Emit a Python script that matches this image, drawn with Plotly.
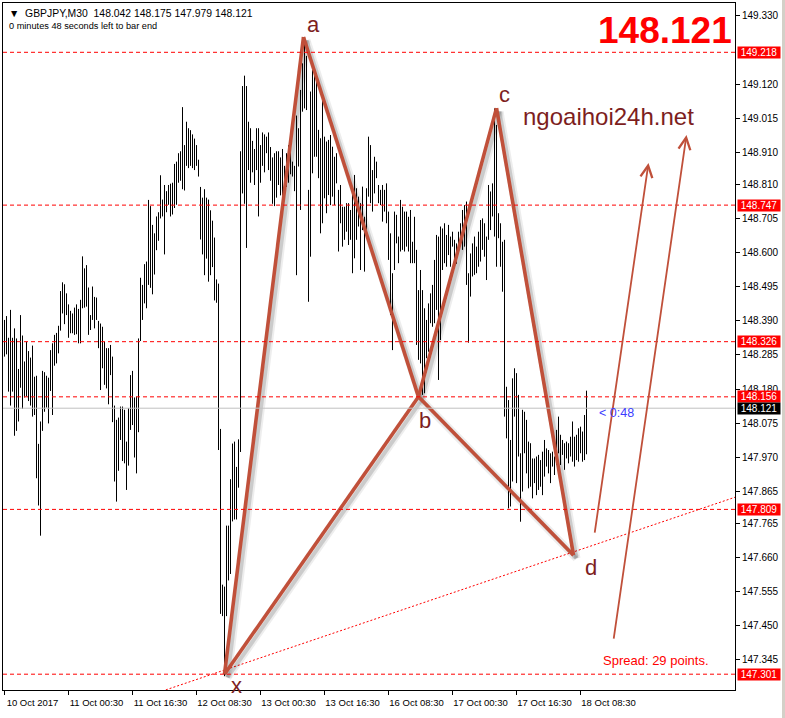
import plotly.graph_objects as go

# bar data (high / low of each bar, oldest first)
highs = [
    148.393, 148.405, 148.338, 148.424, 148.338, 148.367, 148.336, 148.242, 148.408, 148.345,
    148.265, 148.326, 148.297, 148.277, 148.314, 148.218, 148.221, 148.011, 148.080, 148.236,
    148.232, 148.221, 148.215, 148.300, 148.321, 148.347, 148.353, 148.375, 148.482, 148.509,
    148.503, 148.475, 148.441, 148.421, 148.413, 148.431, 148.441, 148.427, 148.455, 148.589,
    148.552, 148.562, 148.493, 148.408, 148.496, 148.464, 148.462, 148.390, 148.382, 148.372,
    148.326, 148.306, 148.306, 148.316, 148.280, 148.129, 148.085, 148.092, 148.126, 148.126,
    148.116, 148.018, 148.121, 148.223, 148.236, 148.154, 148.157, 148.336, 148.523, 148.501,
    148.565, 148.573, 148.763,
    148.744, 148.686, 148.660, 148.712, 148.725, 148.839, 148.764, 148.809, 148.790, 148.809,
    148.813, 148.816, 148.874, 148.881, 148.907, 148.913, 149.049, 148.932, 149.004, 148.984,
    148.978, 148.965, 148.952, 148.932, 148.887, 148.803, 148.770, 148.796, 148.770, 148.764,
    148.731, 148.699, 148.647, 148.518, 148.505, 148.057, 147.577, 147.571, 147.759, 147.759,
    147.902, 148.012, 148.018, 147.940, 148.025, 148.913, 149.114, 149.146, 149.114, 149.004,
    148.984, 148.945, 148.920, 148.984, 148.984, 148.932, 148.971, 148.965, 148.958, 148.971,
    148.926, 148.894, 148.907, 148.913, 148.913, 148.894, 148.920, 148.868, 148.907, 148.932,
    148.971, 148.881, 148.868, 149.023,
    148.984, 149.102, 149.184, 149.245, 149.207, 148.794, 149.097, 149.163, 149.158, 149.153,
    148.979, 148.953, 149.086, 148.958, 148.943, 148.948, 148.963, 148.927, 148.896, 148.907,
    148.794, 148.809, 148.742, 148.742, 148.753, 148.753, 148.732, 148.804, 148.840, 148.799,
    148.773, 148.753, 148.804, 148.711, 148.799, 148.958, 148.932, 148.855, 148.896, 148.881,
    148.809, 148.794, 148.809, 148.794, 148.814, 148.727, 148.660, 148.537, 148.727, 148.717,
    148.650, 148.763, 148.742, 148.727, 148.727, 148.711, 148.732, 148.634, 148.711, 148.609,
    148.485, 148.547, 148.485, 148.429, 148.393, 148.444, 148.475, 148.501, 148.578, 148.655,
    148.650, 148.681, 148.675, 148.691,
    148.655, 148.686, 148.650, 148.665, 148.640, 148.629, 148.665, 148.691, 148.732, 148.747,
    148.758, 148.537, 148.598, 148.629, 148.650, 148.619, 148.665, 148.701, 148.706, 148.691,
    148.650, 148.809, 148.789, 148.814, 149.045, 148.994, 148.722, 148.691, 148.634, 148.640,
    148.187, 148.146, 148.023, 148.213, 148.244, 148.229, 148.162, 147.982, 148.116, 148.110,
    148.085, 148.018, 148.013, 147.966, 147.966, 147.972, 147.977, 147.961, 147.987, 148.023,
    147.997, 147.992, 147.982, 147.987, 147.972, 148.054, 148.095, 148.039, 148.023, 148.013,
    148.018, 148.013, 148.033, 148.080, 148.033, 148.039, 148.059, 148.064, 148.049, 148.100,
    148.175,
]
lows = [
    148.280, 148.287, 148.172, 148.129, 148.172, 148.036, 148.051, 148.080, 148.184, 148.119,
    148.154, 148.157, 148.143, 148.129, 148.095, 148.100, 147.905, 147.821, 147.728, 148.051,
    148.110, 148.123, 148.074, 148.174, 148.100, 148.252, 148.259, 148.290, 148.360, 148.413,
    148.380, 148.408, 148.338, 148.352, 148.352, 148.347, 148.349, 148.321, 148.321, 148.429,
    148.431, 148.434, 148.347, 148.362, 148.393, 148.367, 148.393, 148.306, 148.177, 148.244,
    148.193, 148.182, 148.133, 148.223, 148.078, 147.895, 147.833, 147.928, 148.023, 147.958,
    147.951, 147.869, 147.944, 148.054, 148.069, 147.969, 147.920, 148.047, 148.328, 148.393,
    148.444, 148.429, 148.501,
    148.492, 148.472, 148.533, 148.608, 148.637, 148.706, 148.712, 148.595, 148.725, 148.748,
    148.712, 148.718, 148.738, 148.748, 148.816, 148.822, 148.796, 148.792, 148.868, 148.861,
    148.868, 148.861, 148.855, 148.868, 148.835, 148.641, 148.595, 148.531, 148.582, 148.511,
    148.531, 148.556, 148.453, 148.446, 147.992, 147.487, 147.480, 147.295, 147.480, 147.590,
    147.610, 147.772, 147.778, 147.778, 147.876, 147.986, 148.783, 148.751, 148.615, 148.855,
    148.816, 148.848, 148.809, 148.855, 148.712, 148.816, 148.868, 148.848, 148.907, 148.855,
    148.822, 148.751, 148.744, 148.770, 148.809, 148.777, 148.738, 148.783, 148.803, 148.816,
    148.842, 148.835, 148.790, 148.531,
    148.866, 148.732, 149.035, 149.045, 149.040, 148.449, 148.588, 148.845, 148.896, 148.896,
    148.830, 148.660, 148.691, 148.768, 148.722, 148.778, 148.747, 148.773, 148.747, 148.814,
    148.604, 148.691, 148.619, 148.640, 148.665, 148.624, 148.640, 148.537, 148.583, 148.640,
    148.681, 148.547, 148.670, 148.542, 148.645, 148.773, 148.753, 148.727, 148.783, 148.830,
    148.753, 148.747, 148.696, 148.727, 148.691, 148.578, 148.408, 148.300, 148.547, 148.629,
    148.568, 148.604, 148.609, 148.604, 148.619, 148.604, 148.568, 148.568, 148.568, 148.316,
    148.270, 148.259, 148.162, 148.167, 148.275, 148.295, 148.383, 148.372, 148.383, 148.424,
    148.208, 148.331, 148.547, 148.568,
    148.557, 148.593, 148.557, 148.619, 148.580, 148.566, 148.614, 148.629, 148.609, 148.619,
    148.501, 148.323, 148.465, 148.527, 148.532, 148.537, 148.557, 148.573, 148.609, 148.588,
    148.516, 148.640, 148.670, 148.712, 148.650, 148.557, 148.645, 148.557, 148.480, 148.095,
    148.028, 147.812, 147.818, 147.895, 148.095, 147.890, 147.972, 147.771, 147.864, 147.982,
    147.920, 147.874, 147.879, 147.843, 147.890, 147.853, 147.869, 147.879, 147.853, 147.910,
    147.941, 147.920, 147.890, 147.941, 147.915, 147.946, 147.982, 147.946, 147.977, 147.931,
    147.966, 147.951, 147.972, 147.956, 147.941, 147.961, 147.956, 147.982, 147.956, 147.961,
    147.979,
]

symbol = "GBPJPY,M30"
last_ohlc = [148.042, 148.175, 147.979, 148.121]
bid = 148.121
spread_points = 29
time_left = "0:48"

time_tick_idx = [0, 32, 64, 96, 128, 160, 192, 224, 256, 288]
time_tick_text = ["10 Oct 2017", "11 Oct 00:30", "11 Oct 16:30", "12 Oct 08:30", "13 Oct 00:30",
                  "13 Oct 16:30", "16 Oct 08:30", "17 Oct 00:30", "17 Oct 16:30", "18 Oct 08:30"]
price_ticks = [149.330, 149.120, 149.015, 148.910, 148.810, 148.705, 148.600, 148.495, 148.390,
               148.285, 148.180, 148.075, 147.970, 147.865, 147.765, 147.660, 147.555, 147.450,
               147.345, 147.240]
level_prices = [149.218, 148.747, 148.326, 148.156, 147.809, 147.301]

# XABCD points (bar index, price)
pattern_names = ["x", "a", "b", "c", "d"]
pattern_idx = [110, 149.5, 207, 246, 284.5]
pattern_price = [147.301, 149.265, 148.156, 149.046, 147.668]
legs = [("x", "a"), ("a", "b"), ("b", "c"), ("c", "d"), ("x", "b"), ("b", "d")]

# trend line and the two projection arrows (start, end)
trend_idx = [65.5, 365.5]
trend_price = [147.221, 147.847]
arrows = [((295, 147.733), (322, 148.877)), ((304.5, 147.406), (341, 148.963))]

FONT = "Liberation Sans, Arial, sans-serif"
PAT = "#c0503a"
LABEL = "#7d1e1e"
NB = "\u00a0"

fig = go.Figure()

# bars as high-low sticks
bx, by = [], []
for i, (h, l) in enumerate(zip(highs, lows)):
    bx += [i, i, None]
    by += [h, l, None]
fig.add_trace(go.Scatter(x=bx, y=by, mode="lines", line=dict(color="black", width=1),
                         hoverinfo="skip", showlegend=False))

# level lines
for p in level_prices:
    fig.add_hline(y=p, line=dict(color="#ff0000", width=1, dash="4px,3px"))
fig.add_hline(y=bid, line=dict(color="#c0c0c0", width=1))

# dotted trend line
fig.add_trace(go.Scatter(x=trend_idx, y=trend_price, mode="lines",
                         line=dict(color="#ff0000", width=1, dash="2px,2px"),
                         hoverinfo="skip", showlegend=False))

# pattern legs with a soft shadow
pts = {n: (xi, yi) for n, xi, yi in zip(pattern_names, pattern_idx, pattern_price)}
lx, ly, sx, sy = [], [], [], []
for a, b in legs:
    lx += [pts[a][0], pts[b][0], None]
    ly += [pts[a][1], pts[b][1], None]
    sx += [pts[a][0] + 1.5, pts[b][0] + 1.5, None]
    sy += [pts[a][1] - 0.010, pts[b][1] - 0.010, None]
fig.add_trace(go.Scatter(x=sx, y=sy, mode="lines", line=dict(color="rgba(0,0,0,0.07)", width=8),
                         hoverinfo="skip", showlegend=False))
fig.add_trace(go.Scatter(x=sx, y=sy, mode="lines", line=dict(color="rgba(0,0,0,0.14)", width=4),
                         hoverinfo="skip", showlegend=False))
fig.add_trace(go.Scatter(x=lx, y=ly, mode="lines", line=dict(color=PAT, width=3.6),
                         hoverinfo="skip", showlegend=False))

# point labels
label_pos = {"x": (116, 147.266), "a": (154.5, 149.305), "b": (210, 148.083),
             "c": (250, 149.089), "d": (293, 147.631)}
for n, (xi, yi) in label_pos.items():
    fig.add_annotation(x=xi, y=yi, text=n, showarrow=False,
                       font=dict(family=FONT, size=22, color=LABEL))

# projection arrows
for (x0, y0), (x1, y1) in arrows:
    fig.add_annotation(x=x1, y=y1, ax=x0, ay=y0, xref="x", yref="y", axref="x", ayref="y",
                       text="", showarrow=True, arrowhead=5, arrowsize=1.3, arrowwidth=1.8,
                       arrowcolor=PAT)

# price labels on the axis
for p in level_prices:
    fig.add_annotation(xref="paper", x=1, xanchor="left", xshift=2, y=p, yref="y",
                       text=f"{p:.3f}", showarrow=False, bgcolor="#ff0000", width=42,
                       borderpad=0, font=dict(family=FONT, size=10, color="white"))
fig.add_annotation(xref="paper", x=1, xanchor="left", xshift=2, y=bid, yref="y",
                   text=f"{bid:.3f}", showarrow=False, bgcolor="black", width=42,
                   borderpad=0, font=dict(family=FONT, size=10, color="white"))

# header lines
fig.add_annotation(xref="paper", yref="paper", x=0, y=1, xanchor="left", yanchor="top",
                   xshift=4, yshift=-3, showarrow=False, align="left",
                   text="\u25bc" + NB * 2 + symbol + NB * 2 + " ".join(f"{v:.3f}" for v in last_ohlc),
                   font=dict(family=FONT, size=10.4, color="black"))
fig.add_annotation(xref="paper", yref="paper", x=0, y=1, xanchor="left", yanchor="top",
                   xshift=4, yshift=-16, showarrow=False, align="left",
                   text="0 minutes 48 seconds left to bar end",
                   font=dict(family=FONT, size=9.2, color="black"))

fig.add_annotation(xref="paper", yref="paper", x=1, y=1, xanchor="right", yanchor="top",
                   xshift=-1, yshift=-5, showarrow=False, text=f"{bid:.3f}",
                   font=dict(family=FONT, size=37, color="#ff0000", weight="bold"))
fig.add_annotation(x=258, y=149.019, xanchor="left", showarrow=False, text="ngoaihoi24h.net",
                   font=dict(family=FONT, size=24, color=LABEL))
fig.add_annotation(x=298, y=147.342, xanchor="left", showarrow=False,
                   text=f"Spread: {spread_points} points.",
                   font=dict(family=FONT, size=13, color="#ff0000"))
fig.add_annotation(x=296, y=148.107, xanchor="left", showarrow=False,
                   text=f"< {time_left}", font=dict(family=FONT, size=12.5, color="#3c3cff"))

# window edge strip on the right
fig.add_shape(type="rect", xref="paper", yref="paper", x0=1.0642, x1=1.0700, y0=-0.05, y1=1.01,
              fillcolor="#d4d0c8", line=dict(width=0), layer="above")

fig.update_xaxes(range=[-0.75, 365.25], showgrid=False, zeroline=False,
                 showline=True, mirror=True, linecolor="black", linewidth=1,
                 tickmode="array", tickvals=time_tick_idx, ticktext=time_tick_text,
                 ticks="outside", ticklen=4, tickcolor="black", tickangle=0, ticklabelshift=28,
                 tickfont=dict(family=FONT, size=9.5, color="black"))
fig.update_yaxes(range=[147.2523, 149.3700], side="right", showgrid=False, zeroline=False,
                 showline=True, mirror=True, linecolor="black", linewidth=1,
                 tickmode="array", tickvals=price_ticks, ticktext=[f"{v:.3f}" for v in price_ticks],
                 ticks="outside", ticklen=4, tickcolor="black",
                 tickfont=dict(family=FONT, size=10, color="black"))
fig.update_layout(width=785, height=718, margin=dict(l=3, r=50, t=3, b=28),
                  plot_bgcolor="white", paper_bgcolor="white", showlegend=False)

fig.write_html("out.html", config={"displayModeBar": False},
               post_script="document.body.style.margin='0';")
